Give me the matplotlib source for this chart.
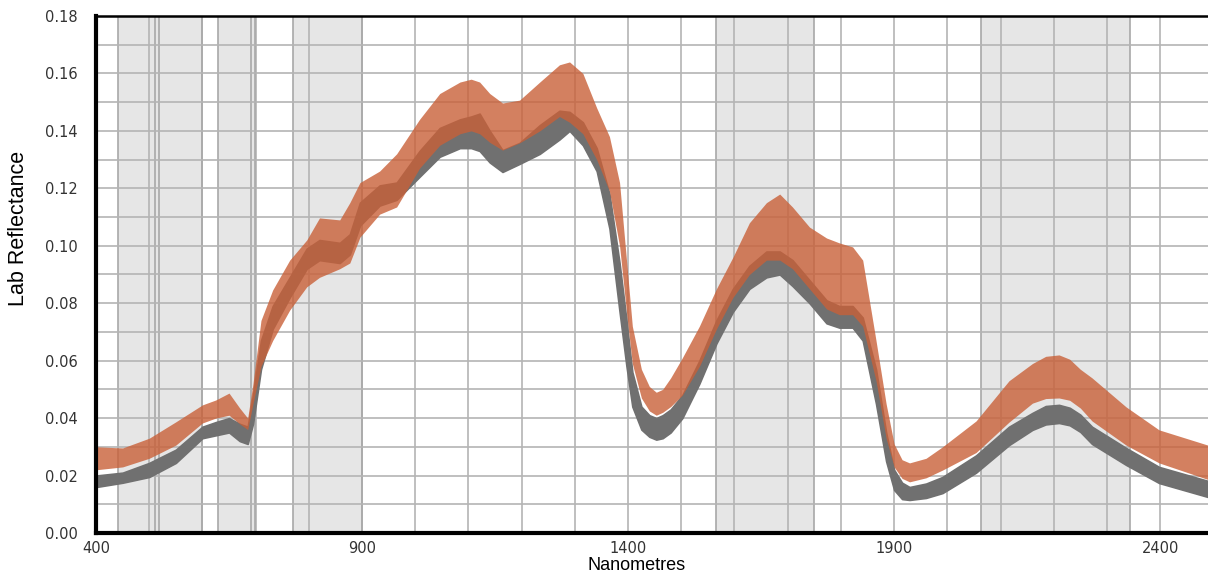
import numpy as np
import matplotlib
matplotlib.use('Agg')
from matplotlib import pyplot as plt

plt.rcParams['font.family'] = ['Liberation Sans', 'DejaVu Sans']

wl = [400, 450, 500, 550, 600, 625, 650, 670, 685, 695, 710, 732, 764, 796, 820,
      858, 877, 896, 933, 965, 1008, 1046, 1084, 1105, 1121, 1140, 1164, 1196, 1234,
      1271, 1290, 1315, 1341, 1365, 1384, 1397, 1408, 1425, 1440, 1453, 1465, 1480,
      1502, 1534, 1566, 1597, 1628, 1660, 1685, 1709, 1741, 1773, 1797, 1822, 1841,
      1866, 1885, 1900, 1915, 1929, 1960, 1991, 2054, 2116, 2160, 2185, 2210, 2230,
      2250, 2272, 2336, 2398, 2500]

# grey band (lab spectra)
grey_lo = [0.016, 0.0175, 0.0195, 0.0244, 0.033, 0.034, 0.035, 0.032, 0.031, 0.038,
           0.057, 0.071, 0.082, 0.092, 0.095, 0.094, 0.097, 0.107, 0.114, 0.116,
           0.124, 0.131, 0.134, 0.134, 0.133, 0.129, 0.1257, 0.1285, 0.132, 0.137,
           0.140, 0.135, 0.126, 0.106, 0.077, 0.058, 0.044, 0.036, 0.0335, 0.0325,
           0.033, 0.035, 0.040, 0.052, 0.066, 0.077, 0.085, 0.089, 0.090, 0.086,
           0.080, 0.073, 0.0715, 0.0715, 0.067, 0.045, 0.025, 0.015, 0.0118, 0.0115,
           0.0122, 0.0139, 0.021, 0.0306, 0.0359, 0.0378, 0.0383, 0.0375, 0.0352,
           0.031, 0.0237, 0.0174, 0.0120]
grey_hi = [0.020, 0.021, 0.0244, 0.029, 0.037, 0.0386, 0.040, 0.038, 0.037, 0.048,
           0.067, 0.079, 0.089, 0.099, 0.102, 0.101, 0.104, 0.115, 0.121, 0.122,
           0.133, 0.141, 0.144, 0.145, 0.146, 0.140, 0.1333, 0.1358, 0.142, 0.147,
           0.1466, 0.143, 0.134, 0.118, 0.094, 0.074, 0.056, 0.044, 0.041, 0.040,
           0.041, 0.043, 0.048, 0.060, 0.074, 0.085, 0.093, 0.098, 0.098, 0.095,
           0.088, 0.081, 0.079, 0.079, 0.075, 0.057, 0.035, 0.022, 0.0175, 0.016,
           0.0172, 0.0195, 0.027, 0.037, 0.0418, 0.0442, 0.0446, 0.0436, 0.0412,
           0.037, 0.0296, 0.023, 0.0176]

# orange band (field spectra)
orange_lo = [0.022, 0.023, 0.026, 0.0306, 0.0383, 0.040, 0.041, 0.038, 0.036, 0.045,
             0.058, 0.067, 0.0776, 0.0857, 0.089, 0.092, 0.094, 0.103, 0.111, 0.1135,
             0.127, 0.135, 0.139, 0.140, 0.139, 0.136, 0.1333, 0.1358, 0.140, 0.145,
             0.143, 0.139, 0.130, 0.119, 0.100, 0.077, 0.059, 0.047, 0.0425, 0.041,
             0.042, 0.044, 0.048, 0.058, 0.071, 0.082, 0.090, 0.095, 0.095, 0.092,
             0.085, 0.078, 0.076, 0.076, 0.072, 0.053, 0.033, 0.023, 0.019, 0.0178,
             0.0192, 0.0219, 0.028, 0.0386, 0.0452, 0.0468, 0.047, 0.0462, 0.0435,
             0.039, 0.0306, 0.0244, 0.018]
orange_hi = [0.030, 0.0296, 0.033, 0.0387, 0.0446, 0.0463, 0.0487, 0.0435, 0.040, 0.052,
             0.074, 0.0846, 0.095, 0.102, 0.1097, 0.109, 0.115, 0.122, 0.126, 0.132,
             0.144, 0.153, 0.157, 0.158, 0.157, 0.153, 0.1497, 0.1507, 0.157, 0.163,
             0.164, 0.160, 0.148, 0.138, 0.122, 0.095, 0.072, 0.057, 0.051, 0.049,
             0.050, 0.054, 0.061, 0.072, 0.085, 0.096, 0.108, 0.115, 0.118, 0.1135,
             0.1065, 0.1027, 0.101, 0.0996, 0.095, 0.067, 0.045, 0.031, 0.0255, 0.0244,
             0.026, 0.030, 0.039, 0.053, 0.059, 0.0615, 0.062, 0.0605, 0.057,
             0.054, 0.0439, 0.0359, 0.030]

# shaded spectral regions and the extra lines drawn at their edges
bands = [(441, 599), (629, 699), (770, 900), (1566, 1750), (2064, 2344)]
band_lines = [441, 511, 518, 599, 629, 691, 699, 770, 900, 1566, 1750, 2064, 2344]

fig = plt.figure(figsize=(12.08, 5.77), dpi=100)
ax = fig.add_axes([0.0795, 0.0763, 0.9205, 0.896])

for a, b in bands:
    ax.axvspan(a, b, color='#e6e6e6', lw=0, zorder=0)

for x in np.arange(500, 2500, 100):
    ax.axvline(x, color='#b4b4b4', lw=1.2, zorder=1)
for x in band_lines:
    ax.axvline(x, color='#a8a8a8', lw=1.2, zorder=1)
for y in np.arange(0.01, 0.18, 0.01):
    ax.axhline(y, color='#b4b4b4', lw=1.2, zorder=1)

ax.fill_between(wl, grey_lo, grey_hi, color='#707070', lw=1.2, edgecolor='#707070',
                joinstyle='round', zorder=2)
ax.fill_between(wl, orange_lo, orange_hi, color='#c96038', alpha=0.8, lw=0, zorder=3)

ax.set_xlim(400, 2490)
ax.set_ylim(0, 0.18)
ax.set_xticks([400, 900, 1400, 1900, 2400])
ax.set_yticks(np.arange(0, 0.181, 0.02))
ax.set_yticklabels([f'{v:.2f}' for v in np.arange(0, 0.181, 0.02)])
ax.tick_params(length=0, labelsize=10.5, labelcolor='#333333',
               labelfontfamily='DejaVu Sans')
ax.tick_params(axis='y', pad=13)
ax.tick_params(axis='x', pad=6)

ax.set_xlabel('Nanometres', fontsize=13)
ax.xaxis.set_label_coords(0.4865, -0.047)
ax.set_ylabel('Lab Reflectance', fontsize=15.5)
ax.yaxis.set_label_coords(-0.060, 0.59)

ax.spines['left'].set_linewidth(3)
ax.spines['bottom'].set_linewidth(3)
ax.spines['top'].set_linewidth(1.8)
ax.spines['right'].set_visible(False)
for s in ['left', 'bottom', 'top']:
    ax.spines[s].set_zorder(5)

plt.savefig('out.png', dpi=100)
